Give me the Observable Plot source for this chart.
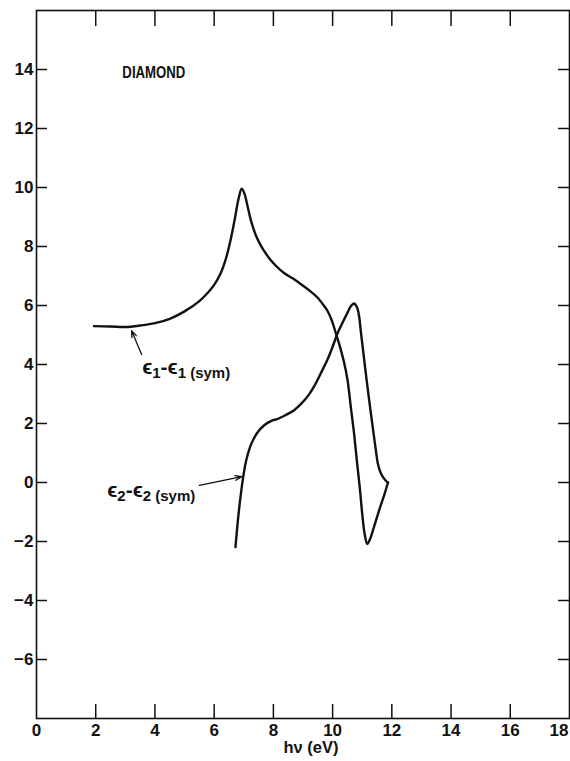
<!DOCTYPE html>
<html><head><meta charset="utf-8">
<script src="https://cdn.jsdelivr.net/npm/d3@7"></script>
<script src="https://cdn.jsdelivr.net/npm/@observablehq/plot@0.6"></script>
<style>body{margin:0;background:#fff}</style>
</head><body><div id="chart"></div>
<script>
// ε1 − ε1(sym) curve
const eps1X = [1.94,2.5,3.0,3.5,4.0,4.5,5.0,5.5,5.8,6.0,6.2,6.4,6.55,6.7,6.82,6.93,7.02,7.12,7.25,7.4,7.55,7.68,7.9,8.1,8.36,8.65,8.92,9.2,9.48,9.68,9.82,9.97,10.1,10.25,10.38,10.5,10.61,10.72,10.83,10.92,11.0,11.08,11.17,11.25,11.4,11.6,11.75,11.87];
const eps1Y = [5.30,5.29,5.27,5.32,5.40,5.55,5.80,6.15,6.45,6.70,7.05,7.6,8.2,8.95,9.6,9.96,9.8,9.4,8.85,8.4,8.08,7.86,7.55,7.33,7.1,6.92,6.73,6.52,6.28,6.03,5.83,5.5,5.09,4.6,4.1,3.5,2.6,1.7,0.63,-0.2,-1.06,-1.73,-2.08,-1.95,-1.5,-0.85,-0.4,0.0];
// ε2 − ε2(sym) curve
const eps2X = [6.72,6.8,6.9,6.98,7.05,7.12,7.25,7.45,7.7,7.95,8.13,8.4,8.7,8.95,9.2,9.4,9.6,9.82,10.0,10.16,10.35,10.5,10.62,10.72,10.82,10.9,10.95,11.05,11.15,11.26,11.37,11.46,11.53,11.64,11.79,11.87];
const eps2Y = [-2.19,-1.3,-0.4,0.18,0.6,0.9,1.3,1.68,1.95,2.1,2.15,2.28,2.45,2.68,2.98,3.3,3.7,4.15,4.6,5.04,5.45,5.75,5.98,6.07,5.95,5.6,5.15,4.3,3.46,2.6,1.76,1.1,0.63,0.29,0.07,0.0];

const xTickLabels = [0,2,4,6,8,10,12,14,16];
const xLastLabel = [18];
const xTickMarks = [2,4,6,8,10,12,14,16];
const yTickLabels = [-6,-4,-2,0,2,4,6,8,10,12,14];

const noteTexts = ["ϵ|1|-ϵ|1 (sym)", "ϵ|2|-ϵ|2 (sym)"];
const noteX = [3.57, 2.39];
const noteY = [3.9, -0.27];
const arrowX1 = [3.55, 5.5];
const arrowY1 = [4.34, -0.10];
const arrowX2 = [3.21, 6.93];
const arrowY2 = [5.15, 0.20];

const titleText = "DIAMOND";
const titleX = 2.9, titleY = 13.9;
const xAxisLabel = "hν (eV)";

const eps1 = eps1X.map((x, i) => ({x, y: eps1Y[i]}));
const eps2 = eps2X.map((x, i) => ({x, y: eps2Y[i]}));
const notes = noteTexts.map((t, i) => ({t, x: noteX[i], y: noteY[i]}));
const arrows = arrowX1.map((x1, i) => ({x1, y1: arrowY1[i], x2: arrowX2[i], y2: arrowY2[i]}));

const font = "Liberation Sans, Arial, sans-serif";
const ink = "#111";

const chart = Plot.plot({
  width: 570,
  height: 761,
  marginLeft: 36,
  marginRight: 1,
  marginTop: 10,
  marginBottom: 43,
  style: {fontFamily: font, background: "#fff", color: ink},
  x: {domain: [0, 18]},
  y: {domain: [-8, 16]},
  marks: [
    Plot.frame({stroke: ink, strokeWidth: 1.6}),
    // inward tick marks
    Plot.axisX(xTickMarks, {anchor: "bottom", tickSize: -14, text: null, label: null, strokeWidth: 1.5}),
    Plot.axisX(xTickMarks, {anchor: "top", tickSize: -15, text: null, label: null, strokeWidth: 1.5}),
    Plot.axisY(yTickLabels, {anchor: "left", tickSize: -11, text: null, label: null, strokeWidth: 1.5}),
    Plot.axisY(yTickLabels, {anchor: "right", tickSize: -12, text: null, label: null, strokeWidth: 1.5}),
    // tick labels
    Plot.axisX(xTickLabels, {anchor: "bottom", tickSize: 0, tickPadding: 5, label: null, fontSize: 17, fontWeight: "bold"}),
    Plot.text(xLastLabel, {x: d => d, frameAnchor: "bottom", lineAnchor: "top", dy: 5, dx: -1, textAnchor: "end", fontSize: 17, fontWeight: "bold", fill: ink}),
    Plot.axisY(yTickLabels, {anchor: "left", tickSize: 0, tickPadding: 3, label: null, fontSize: 17, fontWeight: "bold"}),
    Plot.text([xAxisLabel], {frameAnchor: "bottom", dy: 34, dx: 8, fontSize: 16.5, fontWeight: "bold", fill: ink}),
    Plot.text([titleText], {x: () => titleX, y: () => titleY, textAnchor: "start", fontSize: 17, fontWeight: "bold", fill: ink}),
    Plot.line(eps1, {x: "x", y: "y", curve: "catmull-rom", stroke: ink, strokeWidth: 2.4}),
    Plot.line(eps2, {x: "x", y: "y", curve: "catmull-rom", stroke: ink, strokeWidth: 2.4}),
    Plot.arrow(arrows, {x1: "x1", y1: "y1", x2: "x2", y2: "y2", stroke: ink, strokeWidth: 1.3, headLength: 8, headAngle: 40}),
    Plot.text(notes, {x: "x", y: "y", text: "t", textAnchor: "start", fontSize: 21, fill: ink})
  ]
});

// condense the title like the original lettering
chart.querySelectorAll("text").forEach(el => {
  if (el.textContent === titleText) {
    el.setAttribute("textLength", "63");
    el.setAttribute("lengthAdjust", "spacingAndGlyphs");
  }
});

// convert "|" separated segments to subscripts
chart.querySelectorAll("text").forEach(el => {
  const s = el.textContent;
  if (!s.includes("|")) return;
  const parts = s.split("|");
  el.textContent = "";
  let lowered = false;
  parts.forEach((p, i) => {
    const ts = document.createElementNS("http://www.w3.org/2000/svg", "tspan");
    ts.textContent = p;
    if (i % 2 === 1) {
      ts.setAttribute("font-size", "15");
      ts.setAttribute("font-weight", "bold");
      ts.setAttribute("dy", "4");
      lowered = true;
    } else {
      ts.setAttribute("font-weight", "bold");
      if (lowered) { ts.setAttribute("dy", "-4"); lowered = false; }
    }
    el.appendChild(ts);
  });
});

document.getElementById("chart").appendChild(chart);
</script>
</body></html>
